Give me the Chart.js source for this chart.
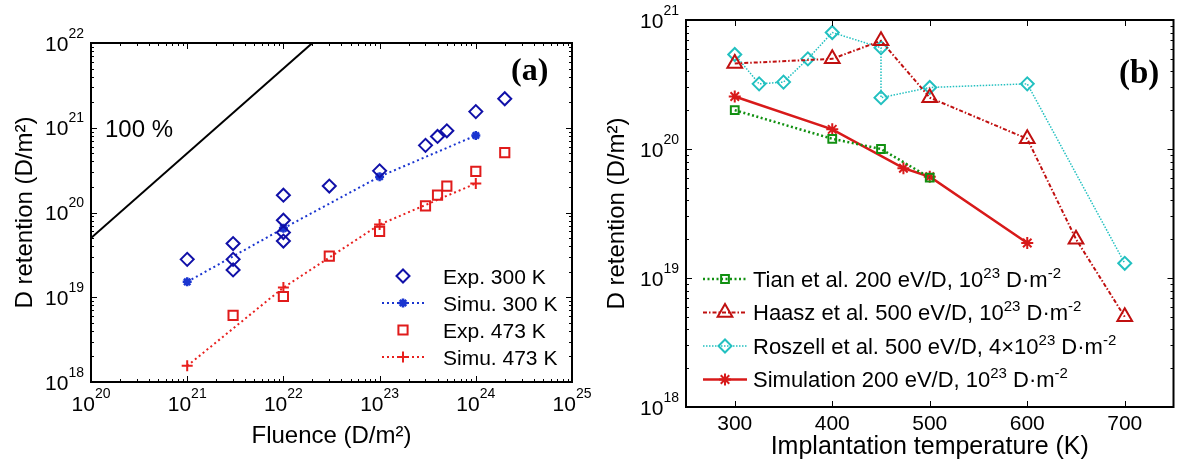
<!DOCTYPE html>
<html>
<head>
<meta charset="utf-8">
<script src="https://cdn.jsdelivr.net/npm/chart.js@4.4.1/dist/chart.umd.min.js"></script>
<style>
  html, body { margin: 0; padding: 0; background: #fff; }
  #wrap { position: relative; width: 1184px; height: 471px; overflow: hidden; }
  canvas { position: absolute; top: 0; }
  #ca { left: 0; }
  #cb { left: 595px; }
</style>
</head>
<body>
<div id="wrap">
  <canvas id="ca" width="595" height="471"></canvas>
  <canvas id="cb" width="589" height="471"></canvas>
</div>
<script>
/* ---------- panel (a): retention vs fluence ---------- */
const fluenceExp300   = [1e21, 3e21, 3e21, 3e21, 1e22, 1e22, 1e22, 1e22, 3e22, 1e23, 3e23, 4e23, 5e23, 1e24, 2e24];
const retentionExp300 = [2.8e19, 4.3e19, 2.8e19, 2.1e19, 1.6e20, 8.1e19, 5.8e19, 4.6e19, 2.05e20, 3.1e20, 6.2e20, 7.9e20, 9.2e20, 1.55e21, 2.2e21];
const fluenceSim      = [1e21, 1e22, 1e23, 1e24];
const retentionSim300 = [1.52e19, 6.5e19, 2.65e20, 8.1e20];
const fluenceExp473   = [3e21, 1e22, 3e22, 1e23, 3e23, 4e23, 5e23, 1e24, 2e24];
const retentionExp473 = [6.1e18, 1.02e19, 3.05e19, 6e19, 1.2e20, 1.6e20, 2.05e20, 3.05e20, 5.1e20];
const retentionSim473 = [1.55e18, 1.3e19, 7.2e19, 2.2e20];
const fullFluence     = [1e20, 2e22];
const fullRetention   = [5e19, 1e22];
const fluenceDecades  = [20, 21, 22, 23, 24, 25];
const retentionDecadesA = [18, 19, 20, 21, 22];
const legendA = [['Exp. 300 K'], ['Simu. 300 K'], ['Exp. 473 K'], ['Simu. 473 K']];

/* ---------- panel (b): retention vs temperature ---------- */
const tianT    = [300, 400, 450, 500];
const tianD    = [2.0e20, 1.2e20, 1.0e20, 6.0e19];
const haaszT   = [300, 400, 450, 500, 600, 650, 700];
const haaszD   = [4.6e20, 5.0e20, 6.9e20, 2.5e20, 1.2e20, 2.0e19, 5.0e18];
const roszellT = [300, 325, 350, 375, 400, 450, 450, 500, 600, 700];
const roszellD = [5.4e20, 3.2e20, 3.3e20, 5.0e20, 8.0e20, 6.1e20, 2.5e20, 3.0e20, 3.2e20, 1.3e19];
const simT     = [300, 400, 473, 500, 600];
const simD     = [2.55e20, 1.42e20, 7.1e19, 6.1e19, 1.87e19];
const tempTicks = [300, 400, 500, 600, 700];
const retentionDecadesB = [18, 19, 20, 21];
const legendB = [
  ['Tian et al. 200 eV/D, 10', '23', ' D\u00b7m', '-2'],
  ['Haasz et al. 500 eV/D, 10', '23', ' D\u00b7m', '-2'],
  ['Roszell et al. 500 eV/D, 4\u00d710', '23', ' D\u00b7m', '-2'],
  ['Simulation 200 eV/D, 10', '23', ' D\u00b7m', '-2']
];

const SANS = '"Liberation Sans", Arial, Helvetica, sans-serif';
const SERIF = '"Liberation Serif", "Times New Roman", serif';
Chart.defaults.font.family = SANS;
Chart.defaults.color = '#000';

function pts(xs, ys) {
  return xs.map((x, i) => ({ x: x, y: ys[i] }));
}

// text pieces alternate normal / superscript
function drawRich(ctx, parts, x, y, size, supSize, rise, align) {
  const widths = parts.map((p, i) => {
    ctx.font = (i % 2 ? supSize : size) + 'px ' + SANS;
    return ctx.measureText(p).width;
  });
  const total = widths.reduce((s, w) => s + w, 0);
  let cx = align === 'right' ? x - total : align === 'center' ? x - total / 2 : x;
  ctx.textAlign = 'left';
  ctx.textBaseline = 'alphabetic';
  parts.forEach((p, i) => {
    ctx.font = (i % 2 ? supSize : size) + 'px ' + SANS;
    ctx.fillText(p, cx, i % 2 ? y - rise : y);
    cx += widths[i];
  });
}

function tickValues(decades, linear) {
  const out = [];
  if (linear) {
    linear.forEach(v => out.push({ v: v, major: true }));
    return out;
  }
  decades.forEach((d, i) => {
    out.push({ v: Math.pow(10, d), major: true });
    if (i < decades.length - 1) {
      for (let k = 2; k <= 9; k++) out.push({ v: k * Math.pow(10, d), major: false });
    }
  });
  return out;
}

const framePlugin = {
  id: 'frame',
  afterDatasetsDraw(chart, args, o) {
    const { ctx, chartArea: a } = chart;
    const sx = chart.scales.x, sy = chart.scales.y;
    ctx.save();
    ctx.strokeStyle = '#000';
    ctx.fillStyle = '#000';
    ctx.setLineDash([]);

    // inner ticks on all four sides
    ctx.lineWidth = 1;
    tickValues(o.xDecades, o.xLinear).forEach(t => {
      const px = Math.round(sx.getPixelForValue(t.v)) + 0.5;
      const len = t.major ? 6 : 3;
      ctx.beginPath();
      ctx.moveTo(px, a.bottom); ctx.lineTo(px, a.bottom - len);
      ctx.moveTo(px, a.top); ctx.lineTo(px, a.top + len);
      ctx.stroke();
    });
    tickValues(o.yDecades).forEach(t => {
      const py = Math.round(sy.getPixelForValue(t.v)) + 0.5;
      const len = t.major ? 6 : 3;
      ctx.beginPath();
      ctx.moveTo(a.left, py); ctx.lineTo(a.left + len, py);
      ctx.moveTo(a.right, py); ctx.lineTo(a.right - len, py);
      ctx.stroke();
    });

    // frame
    ctx.lineWidth = 2;
    ctx.strokeRect(a.left, a.top, a.right - a.left, a.bottom - a.top);

    // tick labels
    if (o.xLinear) {
      ctx.font = '21px ' + SANS;
      ctx.textAlign = 'center';
      ctx.textBaseline = 'alphabetic';
      o.xLinear.forEach(v => ctx.fillText(String(v), sx.getPixelForValue(v), o.xLabelY));
    } else {
      o.xDecades.forEach(d => {
        drawRich(ctx, ['10', String(d)], sx.getPixelForValue(Math.pow(10, d)), o.xLabelY, 21, 14, 13, 'center');
      });
    }
    o.yDecades.forEach(d => {
      drawRich(ctx, ['10', String(d)], a.left - 7, sy.getPixelForValue(Math.pow(10, d)) + 7.5, 21, 14, 13, 'right');
    });

    // legend
    const L = o.legend;
    L.entries.forEach((parts, i) => {
      const ds = chart.data.datasets[L.first + i];
      const ry = L.rows[i];
      if (ds.showLine) {
        ctx.setLineDash(ds.borderDash || []);
        ctx.lineWidth = ds.borderWidth;
        ctx.strokeStyle = ds.borderColor;
        ctx.beginPath();
        ctx.moveTo(L.x0, ry); ctx.lineTo(L.x1, ry);
        ctx.stroke();
      }
      ctx.setLineDash([]);
      ctx.lineWidth = ds.pointBorderWidth;
      ctx.strokeStyle = ds.pointBorderColor;
      ctx.fillStyle = ds.pointBackgroundColor;
      Chart.helpers.drawPoint(ctx, {
        pointStyle: ds.pointStyle, radius: ds.pointRadius,
        borderWidth: ds.pointBorderWidth, rotation: 0
      }, L.mx, ry);
      ctx.fillStyle = '#000';
      drawRich(ctx, parts, L.tx, ry + L.size * 0.358, L.size, L.supSize, L.rise, 'left');
    });

    // panel notes
    o.notes.forEach(n => {
      ctx.fillStyle = '#000';
      ctx.font = n.font;
      ctx.textAlign = 'left';
      ctx.textBaseline = 'middle';
      ctx.fillText(n.text, n.x, n.y);
    });
    ctx.restore();
  }
};

function hollow(color, style, r, data, extra) {
  return Object.assign({
    data: data, showLine: false, pointStyle: style, pointRadius: r,
    pointBorderWidth: 2, pointBorderColor: color, pointBackgroundColor: 'rgba(0,0,0,0)',
    borderColor: color, borderWidth: 2
  }, extra || {});
}

function axisCfg(min, max, type, title, titlePad, fit) {
  return {
    type: type, min: min, max: max,
    ticks: { display: false }, grid: { display: false }, border: { display: false },
    title: { display: true, text: title, font: { size: title.length > 20 ? 25 : 24 }, color: '#000', padding: titlePad },
    afterFit: fit
  };
}

/* ---------- chart (a) ---------- */
new Chart(document.getElementById('ca'), {
  type: 'scatter',
  data: {
    datasets: [
      { data: pts(fullFluence, fullRetention), showLine: true, borderColor: '#000', borderWidth: 2, pointRadius: 0 },
      hollow('#1010a8', 'rectRot', 6.5, pts(fluenceExp300, retentionExp300)),
      hollow('#1a35d0', 'star', 4.5, pts(fluenceSim, retentionSim300),
        { showLine: true, borderDash: [2, 3], borderWidth: 2, pointBorderWidth: 2.5 }),
      hollow('#e01b1b', 'rect', 6.5, pts(fluenceExp473, retentionExp473)),
      hollow('#e8201e', 'cross', 5.5, pts(fluenceSim, retentionSim473),
        { showLine: true, borderDash: [2, 3], borderWidth: 2 })
    ]
  },
  options: {
    responsive: false, animation: false, events: [],
    layout: { padding: { left: 0, top: 43, right: 23, bottom: 0 } },
    plugins: {
      legend: { display: false }, tooltip: { enabled: false },
      frame: {
        xDecades: fluenceDecades, yDecades: retentionDecadesA, xLabelY: 411,
        legend: { first: 1, entries: legendA, rows: [276, 303, 330, 357],
                  x0: 382, x1: 425, mx: 403, tx: 443, size: 21, supSize: 14, rise: 9 },
        notes: [
          { text: '100 %', x: 105, y: 130, font: '24px ' + SANS },
          { text: '(a)', x: 511, y: 72, font: 'bold 32px ' + SERIF }
        ]
      }
    },
    scales: {
      x: axisCfg(1e20, 1e25, 'logarithmic', 'Fluence (D/m\u00b2)', { top: 0, bottom: 20 }, s => { s.height = 89; }),
      y: axisCfg(1e18, 1e22, 'logarithmic', 'D retention (D/m\u00b2)', { top: 11, bottom: 0 }, s => { s.width = 91; })
    }
  },
  plugins: [framePlugin]
});

/* ---------- chart (b) ---------- */
new Chart(document.getElementById('cb'), {
  type: 'scatter',
  data: {
    datasets: [
      hollow('#119011', 'rect', 5.5, pts(tianT, tianD),
        { showLine: true, borderDash: [2, 2.5], borderWidth: 2.5 }),
      hollow('#c01010', 'triangle', 8.5, pts(haaszT, haaszD),
        { showLine: true, borderDash: [4, 2, 1.5, 2], borderWidth: 2 }),
      hollow('#22c0c0', 'rectRot', 6.5, pts(roszellT, roszellD),
        { showLine: true, borderDash: [1.5, 1.5], borderWidth: 1.5 }),
      hollow('#d81a1a', 'star', 6, pts(simT, simD),
        { showLine: true, borderWidth: 2.5 })
    ]
  },
  options: {
    responsive: false, animation: false, events: [],
    layout: { padding: { left: 0, top: 20, right: 4, bottom: 0 } },
    plugins: {
      legend: { display: false }, tooltip: { enabled: false },
      frame: {
        xLinear: tempTicks, yDecades: retentionDecadesB, xLabelY: 429.5,
        legend: { first: 0, entries: legendB, rows: [279, 312.5, 346, 379.5],
                  x0: 108, x1: 152, mx: 130, tx: 158, size: 22, supSize: 15, rise: 9 },
        notes: [
          { text: '(b)', x: 524, y: 74, font: 'bold 33px ' + SERIF }
        ]
      }
    },
    scales: {
      x: axisCfg(250, 750, 'linear', 'Implantation temperature (K)', { top: 0, bottom: 9 }, s => { s.height = 64; }),
      y: axisCfg(1e18, 1e21, 'logarithmic', 'D retention (D/m\u00b2)', { top: 8, bottom: 0 }, s => { s.width = 91; })
    }
  },
  plugins: [framePlugin]
});
</script>
</body>
</html>
